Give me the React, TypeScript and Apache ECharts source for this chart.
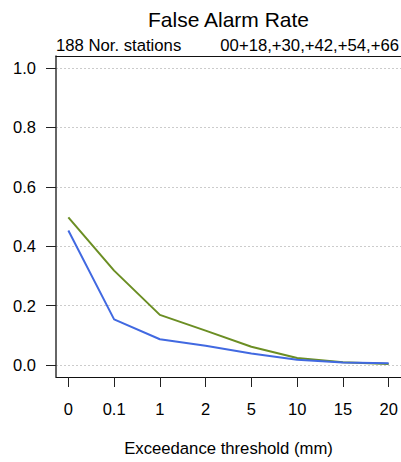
import React, { useEffect, useRef } from "react";
import * as echarts from "echarts";

const categories = ["0", "0.1", "1", "2", "5", "10", "15", "20"];
const greenValues = [0.497, 0.318, 0.169, 0.116, 0.062, 0.024, 0.01, 0.004];
const blueValues = [0.453, 0.154, 0.087, 0.065, 0.039, 0.018, 0.009, 0.006];
const yTicks = [0, 0.2, 0.4, 0.6, 0.8, 1.0];
const titleText = "False Alarm Rate";
const subLeft = "188 Nor. stations";
const subRight = "00+18,+30,+42,+54,+66";
const xTitle = "Exceedance threshold (mm)";

const FONT = "Liberation Sans, Arial, Helvetica, sans-serif";

export default function App() {
  const ref = useRef<HTMLDivElement>(null);
  useEffect(() => {
    if (!ref.current) return;
    const chart = echarts.init(ref.current, null, { renderer: "svg" });
    const xIdx = categories.map((_, i) => i);
    chart.setOption({
      animation: false,
      backgroundColor: "#ffffff",
      grid: { left: 56, right: 0, top: 56, bottom: 85 },
      graphic: [
        {
          type: "text",
          x: 228.5,
          y: 19.5,
          style: { text: titleText, font: `21px ${FONT}`, fill: "#000", align: "center", verticalAlign: "middle" },
        },
        {
          type: "text",
          x: 56,
          y: 45.5,
          style: { text: subLeft, font: `16.7px ${FONT}`, fill: "#000", align: "left", verticalAlign: "middle" },
        },
        {
          type: "text",
          x: 399,
          y: 45.5,
          style: { text: subRight, font: `16.7px ${FONT}`, fill: "#000", align: "right", verticalAlign: "middle" },
        },
        {
          type: "text",
          x: 228.5,
          y: 448,
          style: { text: xTitle, font: `16.7px ${FONT}`, fill: "#000", align: "center", verticalAlign: "middle" },
        },
      ],
      xAxis: [
        {
          type: "value",
          min: -0.27,
          max: 7.27,
          axisLine: { show: true, onZero: false, lineStyle: { color: "#111", width: 1 } },
          axisTick: { show: true, length: 10, customValues: xIdx, lineStyle: { color: "#222" } },
          axisLabel: {
            customValues: xIdx,
            formatter: (v: number) => categories[Math.round(v)] ?? "",
            margin: 23,
            color: "#000",
            fontSize: 16.5,
            fontFamily: FONT,
          },
          splitLine: { show: false },
        },
        {
          type: "value",
          position: "top",
          min: -0.27,
          max: 7.27,
          axisLine: { show: true, onZero: false, lineStyle: { color: "#111", width: 1 } },
          axisTick: { show: false },
          axisLabel: { show: false },
          splitLine: { show: false },
        },
      ],
      yAxis: {
        type: "value",
        min: -0.04,
        max: 1.04,
        axisLine: { show: true, onZero: false, lineStyle: { color: "#333", width: 1.5 } },
        axisTick: { show: true, length: 10, customValues: yTicks, lineStyle: { color: "#222" } },
        axisLabel: {
          customValues: yTicks,
          formatter: (v: number) => v.toFixed(1),
          margin: 20,
          color: "#000",
          fontSize: 16.5,
          fontFamily: FONT,
        },
        splitLine: { show: true, lineStyle: { color: "#cccccc", type: [2, 2], width: 1 } },
      },
      series: [
        {
          type: "line",
          name: "green",
          data: greenValues.map((v, i) => [i, v]),
          showSymbol: false,
          lineStyle: { color: "#6b8e23", width: 2 },
          itemStyle: { color: "#6b8e23" },
        },
        {
          type: "line",
          name: "blue",
          data: blueValues.map((v, i) => [i, v]),
          showSymbol: false,
          lineStyle: { color: "#4169e1", width: 2 },
          itemStyle: { color: "#4169e1" },
        },
      ],
    });
    return () => chart.dispose();
  }, []);
  return (
    <div
      ref={ref}
      style={{ position: "fixed", left: 0, top: 0, width: 401, height: 462, background: "#fff" }}
    />
  );
}
